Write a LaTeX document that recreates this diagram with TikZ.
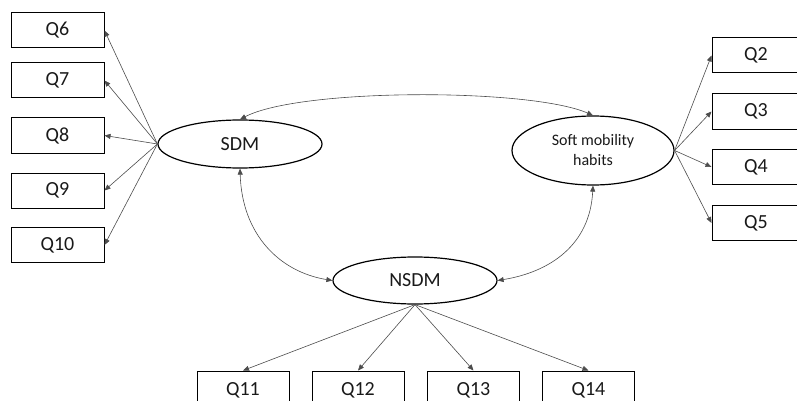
\documentclass[tikz,border=0pt]{standalone}
\usepackage{fontspec}
\setmainfont{Carlito}
\usetikzlibrary{arrows.meta,shapes.geometric}
\begin{document}
\begin{tikzpicture}[x=1pt,y=-1pt,
  box/.style={draw=black,line width=1pt,minimum width=93pt,minimum height=35pt,inner sep=0pt,text=black!90,font=\fontsize{20}{24}\selectfont},
  rbox/.style={box,minimum width=88pt},
  bbox/.style={box,minimum width=92pt,minimum height=38pt},
  lat/.style={draw=black,ellipse,line width=1.2pt,inner sep=0pt,text=black!90,font=\fontsize{20}{24}\selectfont},
  load/.style={draw=black!70,line width=0.6pt,-{Triangle[length=6pt,width=5pt]}},
  cov/.style={draw=black!70,line width=0.6pt,{Triangle[length=6pt,width=5pt]}-{Triangle[length=6pt,width=5pt]}}
]
\useasboundingbox (0,0) rectangle (797,401);
\clip (0,0) rectangle (797,401);
% latent variables
\node[lat,minimum width=164pt,minimum height=48pt] (sdm) at (240,144) {SDM};
\node[lat,minimum width=162pt,minimum height=69pt,align=center,font=\fontsize{16}{20}\selectfont] (soft) at (593,150.5) {Soft mobility\\habits};
\node[lat,minimum width=164pt,minimum height=47pt] (nsdm) at (415,280.5) {NSDM};
% left indicators
\node[box] (q6) at (57.5,30.5) {Q6};
\node[box] (q7) at (57.5,80.5) {Q7};
\node[box] (q8) at (57.5,135.5) {Q8};
\node[box] (q9) at (57.5,190.5) {Q9};
\node[box] (q10) at (57.5,245) {Q10};
% right indicators
\node[rbox] (q2) at (756,55.5) {Q2};
\node[rbox] (q3) at (756,111.5) {Q3};
\node[rbox] (q4) at (756,167) {Q4};
\node[rbox] (q5) at (756,223) {Q5};
% bottom indicators
\node[bbox] (q11) at (243,390) {Q11};
\node[bbox] (q12) at (358,390) {Q12};
\node[bbox] (q13) at (473.5,390) {Q13};
\node[bbox] (q14) at (588.5,390) {Q14};
% loadings
\foreach \q in {q6,q7,q8,q9,q10} \draw[load] (sdm.west) -- (\q.east);
\foreach \q in {q2,q3,q4,q5} \draw[load] (soft.east) -- (\q.west);
\foreach \q in {q11,q12,q13,q14} \draw[load] (nsdm.south) -- (\q.north);
% covariances
\draw[cov] (sdm.north) .. controls (300,88) and (530,88) .. (soft.north);
\draw[cov] (sdm.south) .. controls (242,235) and (280,272) .. (nsdm.west);
\draw[cov] (soft.south) .. controls (590,245) and (550,272) .. (nsdm.east);
\end{tikzpicture}
\end{document}
